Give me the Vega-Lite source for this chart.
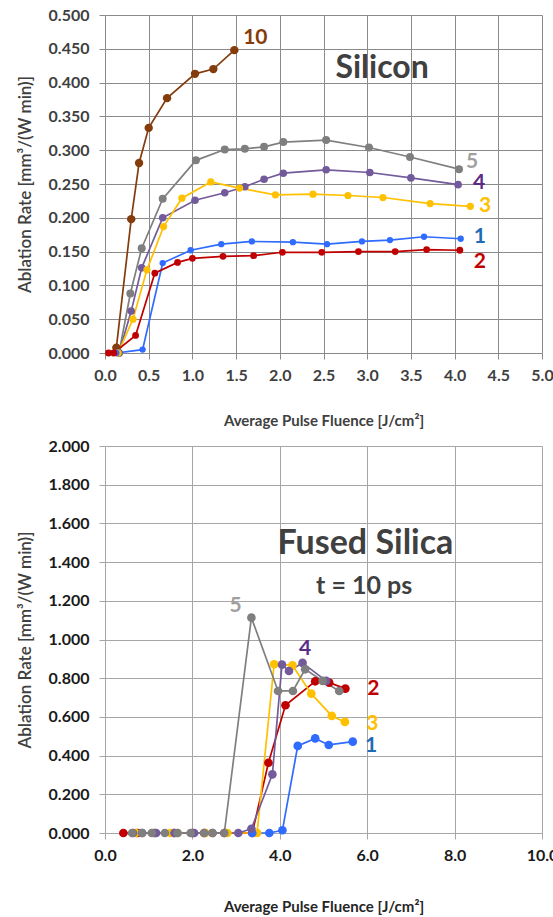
{
  "$schema": "https://vega.github.io/schema/vega-lite/v6.json",
  "background": "white",
  "padding": {"left": 16, "top": 7, "right": 5, "bottom": 5},
  "spacing": 10,
  "config": {
    "view": {"stroke": null},
    "font": "Lato",
    "axis": {"labelFont": "Lato", "titleFont": "Lato"}
  },
  "datasets": {
    "silicon": [
      {"series": "10", "x": 0.13, "y": 0.008},
      {"series": "10", "x": 0.30, "y": 0.198},
      {"series": "10", "x": 0.39, "y": 0.281},
      {"series": "10", "x": 0.50, "y": 0.333},
      {"series": "10", "x": 0.71, "y": 0.377},
      {"series": "10", "x": 1.03, "y": 0.413},
      {"series": "10", "x": 1.24, "y": 0.420},
      {"series": "10", "x": 1.48, "y": 0.448},
      {"series": "5", "x": 0.16, "y": 0.0},
      {"series": "5", "x": 0.29, "y": 0.088},
      {"series": "5", "x": 0.42, "y": 0.155},
      {"series": "5", "x": 0.66, "y": 0.228},
      {"series": "5", "x": 1.04, "y": 0.285},
      {"series": "5", "x": 1.37, "y": 0.301},
      {"series": "5", "x": 1.60, "y": 0.302},
      {"series": "5", "x": 1.82, "y": 0.305},
      {"series": "5", "x": 2.04, "y": 0.312},
      {"series": "5", "x": 2.53, "y": 0.315},
      {"series": "5", "x": 3.02, "y": 0.304},
      {"series": "5", "x": 3.49, "y": 0.290},
      {"series": "5", "x": 4.05, "y": 0.272},
      {"series": "4", "x": 0.16, "y": 0.0},
      {"series": "4", "x": 0.30, "y": 0.062},
      {"series": "4", "x": 0.42, "y": 0.126},
      {"series": "4", "x": 0.66, "y": 0.200},
      {"series": "4", "x": 1.03, "y": 0.226},
      {"series": "4", "x": 1.37, "y": 0.237},
      {"series": "4", "x": 1.60, "y": 0.246},
      {"series": "4", "x": 1.82, "y": 0.257},
      {"series": "4", "x": 2.04, "y": 0.266},
      {"series": "4", "x": 2.53, "y": 0.271},
      {"series": "4", "x": 3.03, "y": 0.267},
      {"series": "4", "x": 3.50, "y": 0.259},
      {"series": "4", "x": 4.04, "y": 0.249},
      {"series": "3", "x": 0.15, "y": 0.0},
      {"series": "3", "x": 0.32, "y": 0.050},
      {"series": "3", "x": 0.48, "y": 0.123},
      {"series": "3", "x": 0.67, "y": 0.187},
      {"series": "3", "x": 0.88, "y": 0.229},
      {"series": "3", "x": 1.21, "y": 0.253},
      {"series": "3", "x": 1.54, "y": 0.244},
      {"series": "3", "x": 1.95, "y": 0.234},
      {"series": "3", "x": 2.38, "y": 0.235},
      {"series": "3", "x": 2.78, "y": 0.233},
      {"series": "3", "x": 3.18, "y": 0.230},
      {"series": "3", "x": 3.72, "y": 0.221},
      {"series": "3", "x": 4.18, "y": 0.217},
      {"series": "1", "x": 0.13, "y": 0.0},
      {"series": "1", "x": 0.43, "y": 0.005},
      {"series": "1", "x": 0.66, "y": 0.133},
      {"series": "1", "x": 0.98, "y": 0.152},
      {"series": "1", "x": 1.33, "y": 0.161},
      {"series": "1", "x": 1.68, "y": 0.165},
      {"series": "1", "x": 2.15, "y": 0.164},
      {"series": "1", "x": 2.54, "y": 0.161},
      {"series": "1", "x": 2.94, "y": 0.165},
      {"series": "1", "x": 3.26, "y": 0.167},
      {"series": "1", "x": 3.65, "y": 0.172},
      {"series": "1", "x": 4.07, "y": 0.169},
      {"series": "2", "x": 0.04, "y": 0.0},
      {"series": "2", "x": 0.10, "y": 0.0},
      {"series": "2", "x": 0.35, "y": 0.026},
      {"series": "2", "x": 0.57, "y": 0.118},
      {"series": "2", "x": 0.83, "y": 0.134},
      {"series": "2", "x": 1.00, "y": 0.140},
      {"series": "2", "x": 1.35, "y": 0.143},
      {"series": "2", "x": 1.70, "y": 0.144},
      {"series": "2", "x": 2.03, "y": 0.149},
      {"series": "2", "x": 2.48, "y": 0.149},
      {"series": "2", "x": 2.90, "y": 0.150},
      {"series": "2", "x": 3.32, "y": 0.150},
      {"series": "2", "x": 3.68, "y": 0.153},
      {"series": "2", "x": 4.06, "y": 0.152}
    ],
    "siliconLabels": [
      {"text": "10", "series": "10", "x": 1.72, "y": 0.466},
      {"text": "5", "series": "5", "x": 4.20, "y": 0.283},
      {"text": "4", "series": "4", "x": 4.28, "y": 0.251},
      {"text": "3", "series": "3", "x": 4.35, "y": 0.217},
      {"text": "1", "series": "1", "x": 4.29, "y": 0.172},
      {"text": "2", "series": "2", "x": 4.29, "y": 0.135}
    ],
    "siliconTitle": [
      {"text": "Silicon", "x": 3.17, "y": 0.422}
    ],
    "silica": [
      {"series": "2", "x": 0.42, "y": 0.0},
      {"series": "2", "x": 0.74, "y": 0.0},
      {"series": "2", "x": 1.13, "y": 0.0},
      {"series": "2", "x": 1.58, "y": 0.0},
      {"series": "2", "x": 2.00, "y": 0.0},
      {"series": "2", "x": 2.27, "y": 0.0},
      {"series": "2", "x": 2.73, "y": 0.0},
      {"series": "2", "x": 3.37, "y": 0.0},
      {"series": "2", "x": 3.74, "y": 0.363},
      {"series": "2", "x": 4.13, "y": 0.660},
      {"series": "2", "x": 4.81, "y": 0.784},
      {"series": "2", "x": 5.13, "y": 0.777},
      {"series": "2", "x": 5.50, "y": 0.746},
      {"series": "3", "x": 0.70, "y": 0.0},
      {"series": "3", "x": 1.08, "y": 0.0},
      {"series": "3", "x": 1.50, "y": 0.0},
      {"series": "3", "x": 1.66, "y": 0.0},
      {"series": "3", "x": 2.30, "y": 0.0},
      {"series": "3", "x": 2.80, "y": 0.0},
      {"series": "3", "x": 3.48, "y": 0.0},
      {"series": "3", "x": 3.87, "y": 0.872},
      {"series": "3", "x": 4.29, "y": 0.866},
      {"series": "3", "x": 4.72, "y": 0.720},
      {"series": "3", "x": 5.19, "y": 0.605},
      {"series": "3", "x": 5.49, "y": 0.574},
      {"series": "1", "x": 3.37, "y": 0.0},
      {"series": "1", "x": 3.76, "y": 0.0},
      {"series": "1", "x": 4.06, "y": 0.014},
      {"series": "1", "x": 4.41, "y": 0.450},
      {"series": "1", "x": 4.81, "y": 0.489},
      {"series": "1", "x": 5.12, "y": 0.455},
      {"series": "1", "x": 5.67, "y": 0.472},
      {"series": "4", "x": 0.64, "y": 0.0},
      {"series": "4", "x": 0.85, "y": 0.0},
      {"series": "4", "x": 1.17, "y": 0.0},
      {"series": "4", "x": 1.59, "y": 0.0},
      {"series": "4", "x": 2.04, "y": 0.0},
      {"series": "4", "x": 2.46, "y": 0.0},
      {"series": "4", "x": 3.05, "y": 0.0},
      {"series": "4", "x": 3.35, "y": 0.022},
      {"series": "4", "x": 3.83, "y": 0.303},
      {"series": "4", "x": 4.05, "y": 0.870},
      {"series": "4", "x": 4.21, "y": 0.837},
      {"series": "4", "x": 4.52, "y": 0.879},
      {"series": "4", "x": 5.06, "y": 0.786},
      {"series": "5", "x": 0.62, "y": 0.0},
      {"series": "5", "x": 0.85, "y": 0.0},
      {"series": "5", "x": 1.07, "y": 0.0},
      {"series": "5", "x": 1.37, "y": 0.0},
      {"series": "5", "x": 1.66, "y": 0.0},
      {"series": "5", "x": 1.96, "y": 0.0},
      {"series": "5", "x": 2.27, "y": 0.0},
      {"series": "5", "x": 2.46, "y": 0.0},
      {"series": "5", "x": 2.73, "y": 0.0},
      {"series": "5", "x": 3.35, "y": 1.113},
      {"series": "5", "x": 3.96, "y": 0.734},
      {"series": "5", "x": 4.30, "y": 0.734},
      {"series": "5", "x": 4.58, "y": 0.846},
      {"series": "5", "x": 4.98, "y": 0.786},
      {"series": "5", "x": 5.36, "y": 0.734}
    ],
    "silicaLabels": [
      {"text": "5", "series": "5", "x": 2.99, "y": 1.173},
      {"text": "4", "series": "4", "x": 4.58, "y": 0.953},
      {"text": "2", "series": "2", "x": 6.14, "y": 0.742},
      {"text": "3", "series": "3", "x": 6.12, "y": 0.565},
      {"text": "1", "series": "1", "x": 6.09, "y": 0.45}
    ],
    "silicaTitle": [
      {"text": "Fused Silica", "x": 5.96, "y": 1.495}
    ],
    "silicaSub": [
      {"text": "t = 10 ps", "x": 5.93, "y": 1.276}
    ]
  },
  "vconcat": [
    {
      "width": 437,
      "height": 338,
      "encoding": {
        "x": {
          "field": "x", "type": "quantitative",
          "scale": {"domain": [0, 5], "nice": false},
          "axis": {
            "title": "Average Pulse Fluence [J/cm²]",
            "values": [0, 0.5, 1, 1.5, 2, 2.5, 3, 3.5, 4, 4.5, 5],
            "tickCount": 40,
            "format": ".1f",
            "grid": true, "gridColor": "#8a8a8a", "gridOpacity": 1, "gridWidth": 1,
            "domain": false, "ticks": true, "tickSize": 6, "tickColor": "#8a8a8a",
            "labelFontSize": 16, "labelFontWeight": "bold", "labelColor": "#404040",
            "labelPadding": 8, "labelFlush": false, "labelOverlap": false,
            "titleFontSize": 15, "titleFontWeight": "bold", "titleColor": "#404040",
            "titlePadding": 30
          }
        },
        "y": {
          "field": "y", "type": "quantitative",
          "scale": {"domain": [0, 0.5], "nice": false},
          "axis": {
            "title": "Ablation Rate [mm³/(W min)]",
            "values": [0, 0.05, 0.1, 0.15, 0.2, 0.25, 0.3, 0.35, 0.4, 0.45, 0.5],
            "tickCount": 40,
            "format": ".3f",
            "grid": true, "gridColor": "#8a8a8a", "gridOpacity": 1, "gridWidth": 1,
            "domain": false, "ticks": true, "tickSize": 6, "tickColor": "#8a8a8a",
            "labelFontSize": 16, "labelFontWeight": "bold", "labelColor": "#404040",
            "labelPadding": 10, "labelFlush": false, "labelOverlap": false,
            "titleFontSize": 17, "titleFontWeight": 600, "titleColor": "#404040",
            "titlePadding": 14
          }
        }
      },
      "layer": [
        {
          "data": {"name": "silicon"},
          "mark": {"type": "line", "strokeWidth": 1.7},
          "encoding": {
            "color": {
              "field": "series", "type": "nominal", "legend": null,
              "scale": {"domain": ["1", "2", "3", "4", "5", "10"],
                        "range": ["#2f6bff", "#c00000", "#ffc000", "#735b9b", "#7f7f7f", "#843c0c"]}
            },
            "detail": {"field": "series"}
          }
        },
        {
          "data": {"name": "silicon"},
          "mark": {"type": "point", "filled": true, "opacity": 1},
          "encoding": {
            "color": {
              "field": "series", "type": "nominal", "legend": null,
              "scale": {"domain": ["1", "2", "3", "4", "5", "10"],
                        "range": ["#2f6bff", "#c00000", "#ffc000", "#735b9b", "#7f7f7f", "#843c0c"]}
            },
            "size": {
              "field": "series", "type": "nominal", "legend": null,
              "scale": {"domain": ["1", "2", "3", "4", "5", "10"], "range": [40, 70, 70, 70, 70, 70]}
            }
          }
        },
        {
          "data": {"name": "siliconLabels"},
          "mark": {"type": "text", "fontSize": 21, "fontWeight": "bold", "font": "Lato"},
          "encoding": {
            "text": {"field": "text"},
            "color": {
              "field": "series", "type": "nominal", "legend": null,
              "scale": {"domain": ["1", "2", "3", "4", "5", "10"],
                        "range": ["#1f6bb5", "#c00000", "#ffc000", "#5b2c86", "#a0a0a0", "#843c0c"]}
            }
          }
        },
        {
          "data": {"name": "siliconTitle"},
          "mark": {"type": "text", "fontSize": 32, "fontWeight": "bold", "font": "Lato", "color": "#404040"},
          "encoding": {
            "text": {"field": "text"}
          }
        }
      ],
      "resolve": {"scale": {"color": "independent"}}
    },
    {
      "width": 437,
      "height": 387,
      "encoding": {
        "x": {
          "field": "x", "type": "quantitative",
          "scale": {"domain": [0, 10], "nice": false},
          "axis": {
            "title": "Average Pulse Fluence [J/cm²]",
            "values": [0, 2, 4, 6, 8, 10],
            "tickCount": 40,
            "format": ".1f",
            "grid": true, "gridColor": "#a6a6a6", "gridOpacity": 1, "gridWidth": 1,
            "domain": false, "ticks": true, "tickSize": 6, "tickColor": "#a6a6a6",
            "labelFontSize": 16, "labelFontWeight": "bold", "labelColor": "#1a1a1a",
            "labelPadding": 8, "labelFlush": false, "labelOverlap": false,
            "titleFontSize": 15, "titleFontWeight": "bold", "titleColor": "#262626",
            "titlePadding": 36
          }
        },
        "y": {
          "field": "y", "type": "quantitative",
          "scale": {"domain": [0, 2], "nice": false},
          "axis": {
            "title": "Ablation Rate [mm³/(W min)]",
            "values": [0, 0.2, 0.4, 0.6, 0.8, 1, 1.2, 1.4, 1.6, 1.8, 2],
            "tickCount": 40,
            "format": ".3f",
            "grid": true, "gridColor": "#a6a6a6", "gridOpacity": 1, "gridWidth": 1,
            "domain": false, "ticks": true, "tickSize": 6, "tickColor": "#a6a6a6",
            "labelFontSize": 16, "labelFontWeight": "bold", "labelColor": "#1a1a1a",
            "labelPadding": 10, "labelFlush": false, "labelOverlap": false,
            "titleFontSize": 17, "titleFontWeight": 600, "titleColor": "#404040",
            "titlePadding": 14
          }
        }
      },
      "layer": [
        {
          "data": {"name": "silica"},
          "mark": {"type": "line", "strokeWidth": 1.7},
          "encoding": {
            "color": {
              "field": "series", "type": "nominal", "legend": null,
              "scale": {"domain": ["1", "2", "3", "4", "5"],
                        "range": ["#2f6bff", "#c00000", "#ffc000", "#735b9b", "#7f7f7f"]}
            },
            "detail": {"field": "series"}
          }
        },
        {
          "data": {"name": "silica"},
          "mark": {"type": "point", "filled": true, "opacity": 1, "size": 75},
          "encoding": {
            "color": {
              "field": "series", "type": "nominal", "legend": null,
              "scale": {"domain": ["1", "2", "3", "4", "5"],
                        "range": ["#2f6bff", "#c00000", "#ffc000", "#735b9b", "#7f7f7f"]}
            }
          }
        },
        {
          "data": {"name": "silicaLabels"},
          "mark": {"type": "text", "fontSize": 21, "fontWeight": "bold", "font": "Lato"},
          "encoding": {
            "text": {"field": "text"},
            "color": {
              "field": "series", "type": "nominal", "legend": null,
              "scale": {"domain": ["1", "2", "3", "4", "5"],
                        "range": ["#1f6bb5", "#c00000", "#ffc000", "#5b2c86", "#a0a0a0"]}
            }
          }
        },
        {
          "data": {"name": "silicaTitle"},
          "mark": {"type": "text", "fontSize": 34, "fontWeight": "bold", "font": "Lato", "color": "#404040"},
          "encoding": {
            "text": {"field": "text"}
          }
        },
        {
          "data": {"name": "silicaSub"},
          "mark": {"type": "text", "fontSize": 25, "fontWeight": "bold", "font": "Lato", "color": "#404040"},
          "encoding": {
            "text": {"field": "text"}
          }
        }
      ],
      "resolve": {"scale": {"color": "independent"}}
    }
  ]
}
